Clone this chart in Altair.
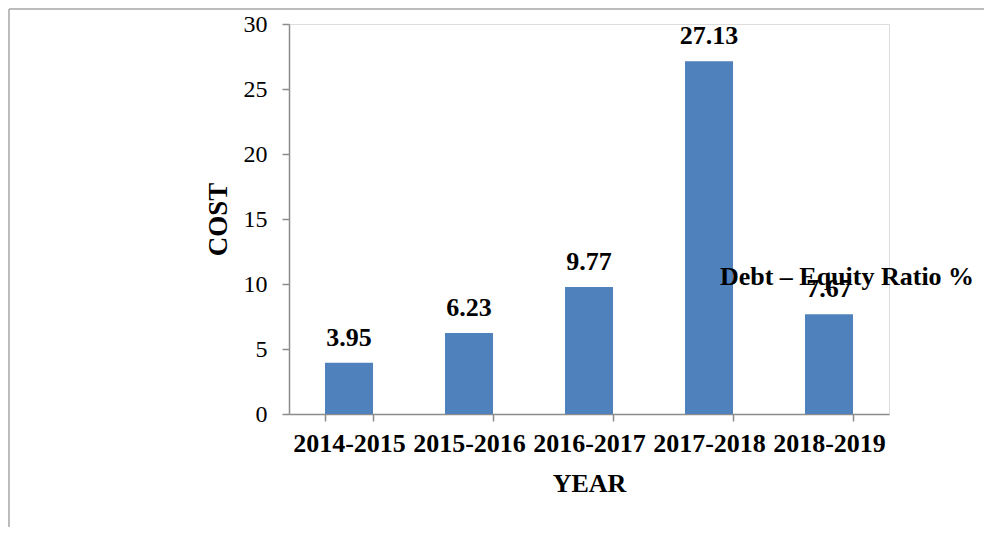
import altair as alt
import pandas as pd

years = ["2014-2015", "2015-2016", "2016-2017", "2017-2018", "2018-2019"]
cost = [3.95, 6.23, 9.77, 27.13, 7.67]
y_ticks = [0, 5, 10, 15, 20, 25, 30]
series_label = "Debt – Equity Ratio %"

df = pd.DataFrame({"YEAR": years, "COST": cost})
SERIF = "Liberation Serif"

x = alt.X("YEAR:N", sort=years, title="YEAR",
          scale=alt.Scale(paddingInner=0.6, paddingOuter=0.3),
          axis=alt.Axis(labelAngle=0, tickBand="extent", labelFont=SERIF, labelFontSize=26,
                        labelFontWeight="bold", labelColor="black", labelPadding=9,
                        titleFont=SERIF, titleFontSize=26, titleFontWeight="bold",
                        titleColor="black", titlePadding=14, domainColor="#8c8c8c",
                        tickColor="#8c8c8c", tickSize=7, domainWidth=1.5, tickWidth=1.5))
y = alt.Y("COST:Q", title="COST",
          scale=alt.Scale(domain=[0, 30], nice=False),
          axis=alt.Axis(values=y_ticks, grid=False, labelFont=SERIF, labelFontSize=24,
                        labelColor="black", labelPadding=15, titleFont=SERIF, titleFontSize=27,
                        titleFontWeight="bold", titleColor="black", titlePadding=11,
                        domainColor="#8c8c8c", tickColor="#8c8c8c", tickSize=7,
                        domainWidth=1.5, tickWidth=1.5))

base = alt.Chart(df)
bars = base.mark_bar(color="#4f81bd").encode(x=x, y=y)
labels = base.mark_text(font=SERIF, fontSize=26, fontWeight="bold", color="black",
                        baseline="alphabetic", dy=-17).encode(
    x=alt.X("YEAR:N", sort=years), y="COST:Q", text=alt.Text("COST:Q", format=".2f"))

series_text = alt.Chart(pd.DataFrame({"t": [series_label]})).mark_text(
    font=SERIF, fontSize=26, fontWeight="bold", color="black", align="center",
    baseline="middle").encode(x=alt.value(558), y=alt.value(253), text="t:N")

frame_top = alt.Chart(pd.DataFrame({"a": [0]})).mark_rule(color="#a6a6a6", strokeWidth=1.5).encode(
    x=alt.value(-280), x2=alt.value(720), y=alt.value(-15))
frame_left = alt.Chart(pd.DataFrame({"a": [0]})).mark_rule(color="#a6a6a6", strokeWidth=1.5).encode(
    x=alt.value(-280), y=alt.value(-15), y2=alt.value(520))

chart = alt.layer(frame_top, frame_left, bars, labels, series_text).properties(
    width=600, height=390,
    padding={"left": 281, "top": 16, "right": 95, "bottom": 113},
    autosize=alt.AutoSizeParams(type="none"),
).configure_view(stroke=None).configure(background="white")

chart.save("out.html", embed_options={"renderer": "svg", "actions": False})
